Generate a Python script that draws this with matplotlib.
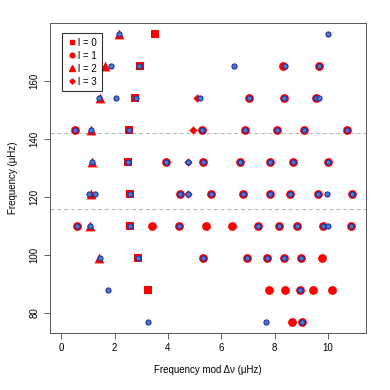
#!/usr/bin/env python3
import matplotlib
matplotlib.use("Agg")
import matplotlib.pyplot as plt
from matplotlib.lines import Line2D

plt.rcParams["font.family"] = ["Liberation Sans", "DejaVu Sans"]

# rows of the echelle diagram (uHz)
rows = [176.2, 165.2, 154.1, 143.1, 132.1, 121.0, 110.1, 99.1, 88.0, 77.0]

# model modes, x = frequency mod dnu, one list per row
l0_x = [[3.51], [2.97], [2.76], [2.54], [2.51], [2.59], [2.57], [2.88], [3.27], []]
l1_x = [[], [8.31, 9.64], [7.02, 8.35, 9.54],
        [0.51, 5.28, 6.87, 8.09, 9.09, 10.70],
        [3.92, 5.32, 6.69, 7.83, 8.69, 10.0],
        [4.45, 5.63, 6.82, 7.83, 8.58, 9.61, 10.88],
        [0.59, 3.42, 4.42, 5.41, 6.41, 7.37, 8.14, 8.84, 9.79, 10.85],
        [5.32, 6.97, 7.72, 8.35, 8.97, 9.78],
        [7.79, 8.40, 8.93, 9.45, 10.14],
        [8.63, 9.03]]
l2_x = [[2.16], [1.64], [1.45], [1.11], [1.14], [1.10], [1.09], [1.40], [], []]
l3_x = [[], [], [5.07], [4.94], [4.76], [4.76], [], [], [], []]

# observed frequencies
obs_x = [[2.16, 10.0],
         [1.85, 2.91, 6.48, 8.37, 9.64],
         [1.42, 2.05, 2.82, 5.19, 7.02, 8.35, 9.53, 9.65],
         [0.51, 1.11, 2.54, 5.28, 6.87, 8.09, 9.09, 10.70],
         [1.14, 2.51, 3.92, 4.76, 5.32, 6.69, 7.83, 8.69, 10.0],
         [1.05, 1.26, 2.59, 4.45, 4.76, 5.63, 6.82, 7.83, 8.58, 9.61, 9.95, 10.88],
         [0.59, 1.09, 2.57, 4.42, 7.37, 8.14, 8.84, 9.79, 9.98, 10.85],
         [1.45, 2.88, 5.32, 6.97, 7.72, 8.35, 8.97],
         [1.75, 8.93],
         [3.26, 7.67, 9.03]]

# dashed reference frequencies
hlines = [142.0, 116.0]

degree_labels = ["l = 0", "l = 1", "l = 2", "l = 3"]


def flatten(xs):
	px, py = [], []
	for r, row in zip(rows, xs):
		for v in row:
			px.append(v)
			py.append(r)
	return px, py


fig = plt.figure(figsize=(3.9, 3.9), dpi=100)
ax = fig.add_axes([0.128, 0.146, 0.810, 0.795])

for h in hlines:
	ax.axhline(h, color="#b4b4b4", linestyle=(0, (4, 3)), linewidth=0.7, zorder=1)

styles = [(l0_x, "s", 34), (l1_x, "o", 40), (l2_x, "^", 50), (l3_x, "D", 18)]
for xs, m, s in styles:
	px, py = flatten(xs)
	ax.scatter(px, py, marker=m, s=s, color="red", linewidths=0, zorder=2)

ox, oy = flatten(obs_x)
ax.scatter(ox, oy, marker="o", s=14, facecolor="#4a78c8", edgecolor="#1a2a9a",
	   linewidths=0.7, zorder=3)

ax.set_xlim(-0.42, 11.41)
ax.set_ylim(73.1, 180.0)
ax.set_xticks([0, 2, 4, 6, 8, 10])
ax.set_yticks([80, 100, 120, 140, 160])
ax.tick_params(labelsize=7, length=4, width=0.6, color="#444444")
for lab in ax.get_yticklabels():
	lab.set_rotation(90)
	lab.set_verticalalignment("center")
for sp in ax.spines.values():
	sp.set_linewidth(0.7)
	sp.set_color("#555555")

ax.set_xlabel("Frequency mod \u0394\u03bd (\u03bcHz)", fontsize=7, labelpad=8)
ax.set_ylabel("Frequency (\u03bcHz)", fontsize=7, labelpad=8)

handles = [Line2D([], [], marker=m, color="red", linestyle="", markersize=ms)
	   for m, ms in zip(["s", "o", "^", "D"], [3.2, 3.4, 3.8, 2.6])]
leg = ax.legend(handles, degree_labels, loc="upper left",
		bbox_to_anchor=(0.038, 0.968), fontsize=7, frameon=True,
		fancybox=False, edgecolor="black", handletextpad=0.2,
		handlelength=1.0, borderpad=0.5, labelspacing=0.3,
		borderaxespad=0)
leg.get_frame().set_linewidth(0.8)

fig.savefig("out.png", dpi=100)
